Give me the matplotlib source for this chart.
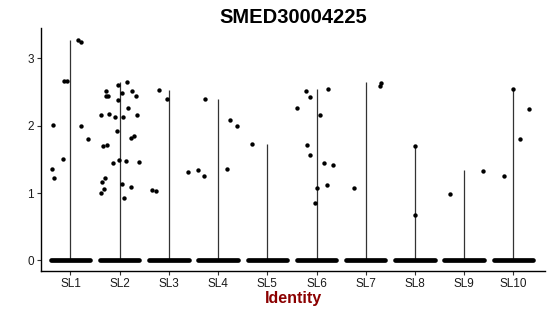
import numpy as np
import matplotlib.pyplot as plt

plt.rcParams['font.family'] = ['Liberation Sans', 'DejaVu Sans']

groups = ["SL1", "SL2", "SL3", "SL4", "SL5", "SL6", "SL7", "SL8", "SL9", "SL10"]
max_expr = [3.28, 2.65, 2.53, 2.39, 1.73, 2.55, 2.65, 1.70, 1.34, 2.55]

# non-zero cells: jittered x position, expression
pts_x = [0.62, 0.67, 0.65, 0.85, 0.86, 0.93, 1.15, 1.22, 1.22, 1.35,
         1.61, 1.72, 1.72, 1.76, 1.78, 1.97, 1.97, 1.91, 1.94, 2.15,
         2.04, 2.26, 2.33, 2.07, 2.16, 2.35, 1.67, 1.75, 2.22, 2.30,
         1.87, 1.99, 2.13, 2.39, 1.65, 1.71, 1.69, 1.63, 2.05, 2.22, 2.09,
         2.80, 2.96, 2.66, 2.74, 3.39,
         3.60, 3.72, 3.74, 4.19, 4.24, 4.39,
         4.69,
         5.61, 5.78, 5.86, 6.24, 6.07, 5.81, 5.86, 6.15, 6.34, 6.01, 6.22, 5.97,
         6.76, 7.29, 7.32,
         8.00, 8.00,
         8.72, 9.38,
         10.00, 9.80, 10.13, 10.31]
pts_y = [1.35, 1.22, 2.01, 1.51, 2.66, 2.66, 3.28, 3.25, 2.00, 1.80,
         2.16, 2.51, 2.44, 2.44, 2.17, 2.60, 2.38, 2.13, 1.92, 2.65,
         2.48, 2.51, 2.44, 2.13, 2.26, 2.16, 1.70, 1.72, 1.82, 1.84,
         1.44, 1.49, 1.48, 1.46, 1.16, 1.22, 1.06, 1.00, 1.14, 1.09, 0.93,
         2.53, 2.39, 1.05, 1.03, 1.32,
         1.34, 1.25, 2.39, 1.35, 2.09, 2.00,
         1.73,
         2.27, 2.51, 2.43, 2.54, 2.16, 1.71, 1.57, 1.45, 1.42, 1.08, 1.12, 0.85,
         1.07, 2.59, 2.64,
         1.70, 0.68,
         0.99, 1.33,
         2.55, 1.26, 1.80, 2.25]

fig = plt.figure(figsize=(5.5, 3.16), dpi=100)
ax = fig.add_axes([0.0745, 0.142, 0.917, 0.769])

pos = np.arange(1, len(groups) + 1)

# violins collapse to thin lines (almost all cells are zero)
ax.vlines(pos, 0, max_expr, color='#333333', lw=0.9, zorder=1)

# dense band of zero-expression cells
ax.hlines(np.zeros(len(pos)), pos - 0.40, pos + 0.40, color='black',
          lw=3.4, capstyle='round', zorder=2)

ax.scatter(pts_x, pts_y, s=10, color='black', lw=0, zorder=3)

ax.set_xlim(0.4, 10.65)
ax.set_ylim(-0.16, 3.45)
ax.set_xticks(pos)
ax.set_xticklabels(groups)
ax.set_yticks([0, 1, 2, 3])

for s in ['top', 'right']:
    ax.spines[s].set_visible(False)
for s in ['left', 'bottom']:
    ax.spines[s].set_color('black')
    ax.spines[s].set_linewidth(1.0)
ax.tick_params(length=3, width=0.8, color='#333333', labelsize=8.5,
               labelcolor='#1a1a1a', pad=2)

ax.set_title("SMED30004225", fontsize=14.5, fontweight='bold', pad=4)
ax.set_xlabel("Identity", fontsize=11.5, fontweight='bold', color='#8b0000',
              labelpad=1)

fig.savefig("out.png", dpi=100)
